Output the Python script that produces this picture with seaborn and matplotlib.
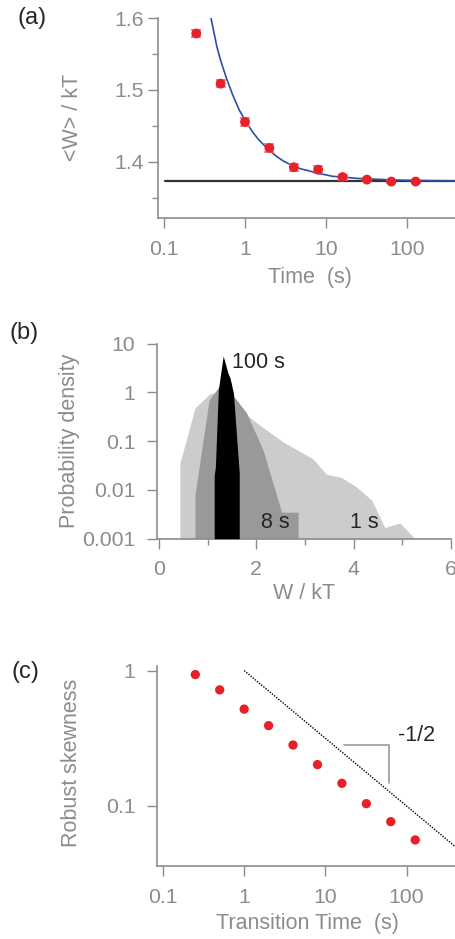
import numpy as np
import pandas as pd
import matplotlib
matplotlib.use("Agg")
import matplotlib.pyplot as plt
import seaborn as sns
from matplotlib.ticker import FixedLocator, NullLocator, FixedFormatter

# ---- data ----
# (a) mean work vs transition time
t_a = [0.25, 0.5, 1, 2, 4, 8, 16, 32, 64, 128]
w_mean = [1.5785, 1.5088, 1.4556, 1.4194, 1.3926, 1.3893, 1.379, 1.3754, 1.3727, 1.3727]
w_err = [0.0045, 0.0045, 0.006, 0.0055, 0.005, 0.0045, 0.0035, 0.0025, 0.0015, 0.0015]
w_inf = 1.3736
fit_t = [0.38, 0.45, 0.5, 0.6, 0.7, 0.85, 1, 1.25, 1.5, 2, 2.5, 3, 4, 5, 6, 8, 10, 12, 16, 25, 40, 64, 100, 200, 400]
fit_w = [1.600, 1.560, 1.541, 1.514, 1.494, 1.472, 1.458, 1.441, 1.430, 1.416, 1.407, 1.401,
         1.394, 1.390, 1.388, 1.384, 1.382, 1.380, 1.379, 1.377, 1.376, 1.375, 1.3745, 1.374, 1.3738]

# (b) work distributions
w_1s = [0.43, 0.43, 0.74, 1.05, 1.3, 1.70, 2.14, 2.55, 3.17, 3.44, 3.75, 4.06, 4.37, 4.64, 4.95, 5.26]
p_1s = [0.001, 0.035, 0.48, 0.95, 1.0, 0.41, 0.19, 0.097, 0.043, 0.021, 0.018, 0.0115, 0.0062, 0.0017, 0.0021, 0.001]
w_8s = [0.74, 0.74, 1.03, 1.23, 1.35, 1.53, 1.80, 2.14, 2.52, 2.86, 2.86]
p_8s = [0.001, 0.008, 0.7, 1.3, 1.5, 0.85, 0.38, 0.065, 0.0035, 0.0035, 0.001]
w_100s = [1.135, 1.135, 1.16, 1.22, 1.32, 1.42, 1.46, 1.53, 1.65, 1.65]
p_100s = [0.001, 0.02, 0.03, 1.13, 5.6, 2.45, 2.0, 0.97, 0.022, 0.001]

# (c) robust skewness
t_c = [0.25, 0.5, 1, 2, 4, 8, 16, 32, 64, 128]
skew = [0.934, 0.72, 0.519, 0.392, 0.282, 0.202, 0.147, 0.104, 0.0766, 0.0561]
guide_t = [1, 400]
guide_s = [1, 0.05]
tri_t = [17, 61, 61]
tri_s = [0.282, 0.282, 0.149]

sns.set_style("ticks")
plt.rcParams['font.family'] = ['Liberation Sans', 'DejaVu Sans']

gray = '#8c8c8c'
red = '#e8202a'
fs_tick = 15.3
fs_lab = 15.5

fig = plt.figure(figsize=(4.56, 9.39), dpi=100)
ax_a = fig.add_axes([0.3465, 0.7678, 0.6535, 0.2130])
ax_b = fig.add_axes([0.3443, 0.4263, 0.6447, 0.2077])
ax_c = fig.add_axes([0.3436, 0.0777, 0.6564, 0.2130])

for ax in (ax_a, ax_b, ax_c):
    sns.despine(ax=ax)
    for s in ('left', 'bottom'):
        ax.spines[s].set_color(gray)
        ax.spines[s].set_linewidth(1.2)
    ax.tick_params(which='major', length=7.5, width=1, color=gray, labelcolor=gray, labelsize=fs_tick)
    ax.tick_params(which='minor', length=4.3, width=1, color=gray)
    ax.tick_params(axis='x', pad=8)
    ax.patch.set_alpha(0)

# ---- (a) ----
ax_a.set_xscale('log')
ax_a.axhline(w_inf, xmin=0.024, color='#333333', lw=1.6, zorder=1)
sns.lineplot(x=fit_t, y=fit_w, ax=ax_a, color='#2e4fa3', lw=1.2, zorder=2)
ax_a.errorbar(t_a, w_mean, yerr=w_err, fmt='none', ecolor='#f07078', elinewidth=1.2,
              capsize=3.5, capthick=1.2, zorder=3)
sns.scatterplot(x=t_a, y=w_mean, ax=ax_a, color=red, s=50, edgecolor='none', zorder=4)
ax_a.set_xlim(0.0843, 403)
ax_a.set_ylim(1.322, 1.6)
ax_a.xaxis.set_major_locator(FixedLocator([0.1, 1, 10, 100]))
ax_a.xaxis.set_major_formatter(FixedFormatter(['0.1', '1', '10', '100']))
ax_a.xaxis.set_minor_locator(NullLocator())
ax_a.set_yticks([1.4, 1.5, 1.6])
ax_a.set_yticklabels(['1.4', '1.5', '1.6'])
ax_a.set_yticks([1.35, 1.45, 1.55], minor=True)
ax_a.tick_params(axis='y', pad=3)
ax_a.set_xlabel('Time  (s)', fontsize=fs_lab, color=gray)
ax_a.set_ylabel('<W> / kT', fontsize=fs_lab, color=gray)
ax_a.xaxis.set_label_coords(0.51, -0.245)
ax_a.yaxis.set_label_coords(-0.252, 0.505)

# ---- (b) ----
ax_b.set_yscale('log')
ax_b.fill_between(w_1s, 1e-3, p_1s, color='#cccccc', lw=0, zorder=1)
ax_b.fill_between(w_8s, 1e-3, p_8s, color='#999999', lw=0, zorder=2)
ax_b.fill_between(w_100s, 1e-3, p_100s, color='black', lw=0, zorder=3)
ax_b.text(1.50, 4.1, '100 s', fontsize=fs_lab, va='center', ha='left')
ax_b.text(2.09, 0.0021, '8 s', fontsize=fs_lab, va='center', ha='left')
ax_b.text(3.92, 0.0021, '1 s', fontsize=fs_lab, va='center', ha='left')
ax_b.set_xlim(-0.04, 6)
ax_b.set_ylim(0.001, 10)
ax_b.yaxis.set_major_locator(FixedLocator([0.001, 0.01, 0.1, 1, 10]))
ax_b.yaxis.set_major_formatter(FixedFormatter(['0.001', '0.01', '0.1', '1', '10']))
ax_b.yaxis.set_minor_locator(NullLocator())
ax_b.set_xticks([0, 2, 4, 6])
ax_b.set_xticks([1, 3, 5], minor=True)
ax_b.tick_params(axis='y', pad=8)
ax_b.set_xlabel('W / kT', fontsize=fs_lab, color=gray)
ax_b.set_ylabel('Probability density', fontsize=fs_lab, color=gray)
ax_b.xaxis.set_label_coords(0.5, -0.227)
ax_b.yaxis.set_label_coords(-0.262, 0.502)

# ---- (c) ----
ax_c.set_xscale('log')
ax_c.set_yscale('log')
ax_c.plot(guide_t, guide_s, color='black', lw=1, ls=(0, (1, 1)), zorder=1)
ax_c.plot(tri_t, tri_s, color='#999999', lw=1.2, zorder=1)
sns.scatterplot(x=t_c, y=skew, ax=ax_c, color=red, s=45, edgecolor='none', zorder=3)
ax_c.text(79, 0.33, '-1/2', fontsize=fs_lab, va='center', ha='left')
ax_c.set_xlim(0.0836, 407)
ax_c.set_ylim(0.036, 1.08)
ax_c.xaxis.set_major_locator(FixedLocator([0.1, 1, 10, 100]))
ax_c.xaxis.set_major_formatter(FixedFormatter(['0.1', '1', '10', '100']))
ax_c.xaxis.set_minor_locator(NullLocator())
ax_c.yaxis.set_major_locator(FixedLocator([0.1, 1]))
ax_c.yaxis.set_major_formatter(FixedFormatter(['0.1', '1']))
ax_c.yaxis.set_minor_locator(NullLocator())
ax_c.tick_params(axis='y', pad=8)
ax_c.set_xlabel('Transition Time  (s)', fontsize=fs_lab, color=gray)
ax_c.set_ylabel('Robust skewness', fontsize=fs_lab, color=gray)
ax_c.xaxis.set_label_coords(0.505, -0.235)
ax_c.yaxis.set_label_coords(-0.25, 0.515)

# panel letters
fig.text(18 / 456, 1 - 18 / 939, '(a)', fontsize=17, va='center', ha='left')
fig.text(10 / 456, 1 - 333 / 939, '(b)', fontsize=17, va='center', ha='left')
fig.text(12 / 456, 1 - 672 / 939, '(c)', fontsize=17, va='center', ha='left')

fig.savefig('out.png', dpi=100)
